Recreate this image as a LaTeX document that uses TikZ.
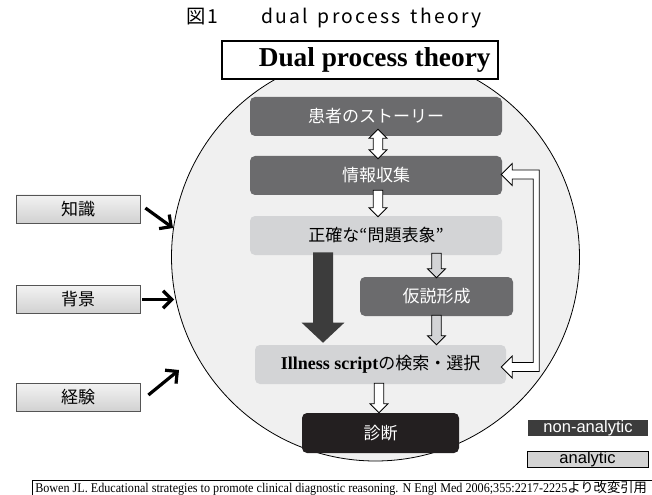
\documentclass[tikz,border=0pt]{standalone}
\usepackage{fontspec}
\setmainfont{Liberation Serif}
\newfontfamily\jp{Noto Sans CJK JP}
\newfontfamily\jpwide[LetterSpace=12]{Noto Sans CJK JP}
\newfontfamily\arial{Liberation Sans}
\usetikzlibrary{arrows.meta,calc}
\definecolor{boxdark}{HTML}{6B6B6D}
\definecolor{boxlight}{HTML}{D3D4D6}
\definecolor{circfill}{HTML}{F0F0F0}
\definecolor{bigarrowc}{HTML}{3C3C3C}
\definecolor{diagblack}{HTML}{231F20}
\definecolor{legdark}{HTML}{3C3C3C}
\definecolor{legana}{HTML}{D3D3D3}
\definecolor{sideborder}{HTML}{555555}
\tikzset{
  stepbox/.style={rounded corners=3.75pt, minimum width=189pt, minimum height=29.25pt, inner sep=0pt,
    font=\jp\fontsize{12.75pt}{14pt}\selectfont},
  darkbox/.style={stepbox, fill=boxdark, text=white},
  lightbox/.style={stepbox, fill=boxlight, text=black},
  sidebox/.style={draw=sideborder, line width=0.6pt, top color=white!95!black, bottom color=white!82!black,
    minimum width=93pt, minimum height=21pt, inner sep=0pt, font=\jp\fontsize{12.75pt}{14pt}\selectfont},
  blockline/.style={draw=black, line width=0.6pt, line join=miter},
  inarrow/.style={line width=2.4pt, -{Straight Barb[length=6.5pt,width=13pt]}},
}
% block arrow pointing down: fill, start, tip
\newcommand\blockdown[3]{%
  \draw[blockline, fill=#1] let \p1=(#2), \p2=(#3) in
    (\x1-3.6pt,\y1) -- (\x1+3.6pt,\y1) -- (\x1+3.6pt,\y2+6.75pt) -- (\x1+6.75pt,\y2+6.75pt)
    -- (\x1,\y2) -- (\x1-6.75pt,\y2+6.75pt) -- (\x1-3.6pt,\y2+6.75pt) -- cycle;}
% block arrow with heads at both ends: fill, top tip, bottom tip
\newcommand\blockboth[3]{%
  \draw[blockline, fill=#1] let \p1=(#2), \p2=(#3) in
    (\x1,\y1) -- (\x1+6.75pt,\y1-6.75pt) -- (\x1+3.6pt,\y1-6.75pt) -- (\x1+3.6pt,\y2+6.75pt)
    -- (\x1+6.75pt,\y2+6.75pt) -- (\x1,\y2) -- (\x1-6.75pt,\y2+6.75pt) -- (\x1-3.6pt,\y2+6.75pt)
    -- (\x1-3.6pt,\y1-6.75pt) -- (\x1-6.75pt,\y1-6.75pt) -- cycle;}
\begin{document}
\begin{tikzpicture}[x=0.75pt,y=-0.75pt]
\useasboundingbox (0,0) rectangle (652,495);
\clip (0,0) rectangle (652,495);
% title
\node[font=\jpwide\fontsize{14.5pt}{16pt}\selectfont, anchor=west, inner sep=0pt] (title) at (186,18)
  {図1\hspace{2.2em}dual\hspace{0.5em}process\hspace{0.5em}theory};
% big circle
\node[circle, draw, line width=0.6pt, fill=circfill, minimum size=306pt, inner sep=0pt] (outer) at (375.5,257) {};
% title box
\node[draw, fill=white, line width=0.8pt, minimum width=207pt, minimum height=28.5pt, inner sep=0pt,
  font=\bfseries\fontsize{20.5pt}{22pt}\selectfont] (tb) at (360,60) {\hspace{22pt}Dual process theory};
% steps
\node[darkbox] (s1) at (376,116.5) {患者のストーリー};
\node[darkbox] (s2) at (376,175.5) {情報収集};
\node[lightbox] (s3) at (376,235.5) {正確な“問題表象”};
\node[darkbox, minimum width=114.75pt] (s4) at (436.5,296.5) {仮説形成};
\node[lightbox, minimum width=188.25pt] (s5) at (380.5,364.5)
  {{\rmfamily\bfseries\fontsize{13.5pt}{14pt}\selectfont Illness script}の検索・選択};
\node[stepbox, fill=diagblack, text=white, minimum width=117.75pt, minimum height=30pt] (s6) at (380.5,433) {診断};
% arrows between steps
\coordinate (a1s) at ($(s1.south)+(2,-7)$);
\coordinate (a1e) at ($(s2.north)+(2,3)$);
\blockboth{white}{a1s}{a1e}
\coordinate (a2s) at ($(s2.south)+(2,-5)$);
\coordinate (a2e) at ($(s3.north)+(2,1)$);
\blockdown{white}{a2s}{a2e}
\coordinate (a3s) at ($(s3.south -| s4.north)+(0,-2)$);
\coordinate (a3e) at ($(s4.north)+(0,1)$);
\blockdown{boxlight}{a3s}{a3e}
\coordinate (a4s) at ($(s4.south)+(0,-1)$);
\coordinate (a4e) at ($(s5.north -| s4.south)+(0,0)$);
\blockdown{boxlight}{a4s}{a4e}
\coordinate (a5s) at ($(s5.south)+(-1.5,-1)$);
\coordinate (a5e) at ($(s6.north)+(-1.5,0)$);
\blockdown{white}{a5s}{a5e}
% big non-analytic arrow
\coordinate (bigtop) at ($(s3.south)+(-53,-3)$);
\coordinate (bigtip) at ($(s5.north)+(-57.5,-2)$);
\fill[bigarrowc] let \p1=(bigtop), \p2=(bigtip) in
  (\x1-7.5pt,\y1) -- (\x1+7.5pt,\y1) -- (\x1+7.5pt,\y2+15pt) -- (\x1+16pt,\y2+15pt)
  -- (\x1,\y2) -- (\x1-16pt,\y2+15pt) -- (\x1-7.5pt,\y2+15pt) -- cycle;
% feedback arrow
\coordinate (fbA) at ($(s2.east)+(-1,-1)$);
\draw[blockline, fill=white] (fbA) -- ++(11,-11) -- ++(0,6.5) -- ++(27,0) -- ++(0,201.5) -- ++(-27,0)
  -- ++(0,6.5) -- ++(-11,-11) -- ++(11,-11) -- ++(0,6.5) -- ++(21,0) -- ++(0,-183.5) -- ++(-21,0)
  -- ++(0,6.5) -- cycle;
% side boxes
\node[sidebox] (k1) at (78,209) {知識};
\node[sidebox] (k2) at (78,299.5) {背景};
\node[sidebox] (k3) at (78,397.5) {経験};
\coordinate (t1) at (173,228);
\coordinate (t2) at (174,299.5);
\coordinate (t3) at (179,370);
\draw[inarrow] ($(k1.east)+(5,-1)$) -- (t1);
\draw[inarrow] ($(k2.east)+(2,0)$) -- (t2);
\draw[inarrow] ($(k3.east)+(8,-2.5)$) -- (t3);
% legend
\node[fill=legdark, text=white, minimum width=90pt, minimum height=12pt, inner sep=0pt,
  font=\arial\fontsize{12.4pt}{13pt}\selectfont] (na) at (588,428) {non-analytic};
\node[fill=legana, draw, line width=0.6pt, minimum width=90.75pt, minimum height=12pt, inner sep=0pt,
  font=\arial\fontsize{12.4pt}{13pt}\selectfont] (an) at (587.5,459) {analytic};
% reference
\node[draw, line width=0.6pt, anchor=north west, minimum width=465pt, minimum height=15pt, inner sep=0pt] (ref) at (32,480) {};
\node[anchor=west, inner sep=0pt] (reftext) at ($(ref.north west)+(3,8.5)$)
  {\mbox{\resizebox{399pt}{\height}{\fontsize{10pt}{11pt}\selectfont Bowen JL. Educational strategies to promote clinical diagnostic reasoning. N Engl Med 2006;355:2217-2225}{\jp\fontsize{10pt}{11pt}\selectfont より改変引用}}};
\end{tikzpicture}
\end{document}
